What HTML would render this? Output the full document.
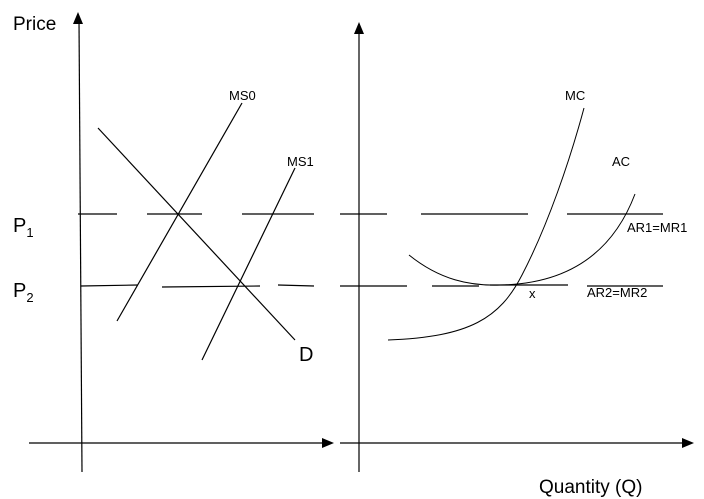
<!DOCTYPE html>
<html><head><style>html,body{margin:0;padding:0;background:#fff}svg{display:block}</style></head>
<body>
<svg width="704" height="499" viewBox="0 0 704 499" xmlns="http://www.w3.org/2000/svg" font-family="Liberation Sans, sans-serif">
<rect width="704" height="499" fill="#fff"/>
<g stroke="#000" stroke-width="1.2" fill="none">
<line x1="79" y1="20" x2="82" y2="472"/>
<line x1="29" y1="443" x2="325" y2="443"/>
<line x1="359" y1="30" x2="359" y2="472"/>
<line x1="340" y1="443" x2="685" y2="443"/>
<line x1="78" y1="214" x2="117" y2="214"/>
<line x1="147" y1="214" x2="202" y2="214"/>
<line x1="242" y1="214" x2="314" y2="214"/>
<line x1="340" y1="214" x2="387" y2="214"/>
<line x1="421" y1="214" x2="528" y2="214"/>
<line x1="567" y1="214" x2="663" y2="214"/>
<line x1="81" y1="286" x2="138" y2="285"/>
<line x1="162" y1="287" x2="260" y2="286"/>
<line x1="278" y1="285" x2="314" y2="286"/>
<line x1="340" y1="286" x2="407" y2="286"/>
<line x1="432" y1="286" x2="479" y2="286"/>
<line x1="490" y1="285" x2="568" y2="285"/>
<line x1="587" y1="286" x2="663" y2="286"/>
<line x1="98" y1="128" x2="295" y2="340"/>
<line x1="242" y1="103" x2="117" y2="321"/>
<line x1="295" y1="168" x2="202" y2="360"/>
<path d="M388,340 C470,337 500,318 522,275 C548,225 570,160 584,108" stroke-width="1"/>
<path d="M409,255 C440,280 470,286 500,285 C560,284 610,260 635,194" stroke-width="1"/>
</g>
<g fill="#000">
<polygon points="78,12 73,24 83,24"/>
<polygon points="359,22 354,34 364,34"/>
<polygon points="334,443 322,438 322,448"/>
<polygon points="694,443 682,438 682,448"/>
</g>
<g fill="#000">
<text x="13" y="30" font-size="19">Price</text>
<text x="13" y="232" font-size="20">P<tspan font-size="13" dy="5">1</tspan></text>
<text x="13" y="297" font-size="20">P<tspan font-size="13" dy="5">2</tspan></text>
<text x="229" y="100" font-size="13">MS0</text>
<text x="287" y="166" font-size="13">MS1</text>
<text x="299" y="361" font-size="20">D</text>
<text x="565" y="100" font-size="13">MC</text>
<text x="612" y="166" font-size="13">AC</text>
<text x="627" y="232" font-size="13">AR1=MR1</text>
<text x="529" y="298" font-size="13">x</text>
<text x="587" y="297" font-size="13">AR2=MR2</text>
<text x="539" y="493" font-size="19">Quantity (Q)</text>
</g>
</svg>
</body></html>
